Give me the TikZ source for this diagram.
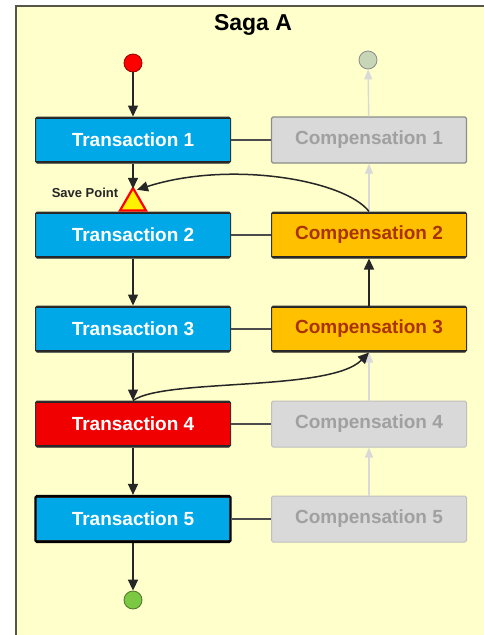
\documentclass[tikz,border=0pt]{standalone}
\usepackage{fontspec}
\setmainfont{Liberation Sans}
\usetikzlibrary{arrows.meta,shapes.geometric}
\definecolor{sagabg}{HTML}{FFFFCC}
\definecolor{frameline}{HTML}{55554A}
\definecolor{txblue}{HTML}{00A8E8}
\definecolor{txred}{HTML}{F00000}
\definecolor{cporange}{HTML}{FFC000}
\definecolor{cptext}{HTML}{A83200}
\definecolor{idlegrey}{HTML}{D9D9D9}
\definecolor{idletext}{HTML}{A0A0A0}
\definecolor{stopgreen}{HTML}{7CC842}
\definecolor{ghostgreen}{HTML}{C8D6B8}
\begin{document}
\begin{tikzpicture}[x=1pt,y=-1pt,
    edges/.style={path picture={\draw[line width=4pt,#1]
      (path picture bounding box.north west) -- (path picture bounding box.north east)
      (path picture bounding box.south west) -- (path picture bounding box.south east);}},
    box/.style={rectangle, minimum width=195pt, minimum height=46pt,
      rounded corners=1.5pt, line width=1pt, draw=black!80,
      font=\fontsize{19}{22}\selectfont\bfseries},
    trans/.style={box, fill=txblue, text=white, edges=black!85},
    comp/.style={box, fill=cporange, text=cptext, edges=black!85},
    idle/.style={box, fill=idlegrey, text=idletext, draw=black!25},
    endpoint/.style={circle, minimum size=18pt, inner sep=0pt, line width=0.8pt},
    flow/.style={-{Triangle[length=11pt,width=10pt]}, line width=1.5pt, draw=black!85},
    ghost/.style={-{Triangle[length=10pt,width=8pt]}, line width=1.4pt, draw=black!15},
    link/.style={line width=1.4pt, draw=black!70}]
  \useasboundingbox (0,0) rectangle (484,635);
  \fill[sagabg] (15,5) rectangle (484,635);
  \draw[frameline, line width=2pt] (16,635) -- (16,6) -- (484,6);

  \node[font=\fontsize{23}{26}\selectfont\bfseries] (title) at (253,25) {Saga A};

  % endpoints
  \node[endpoint, fill=red, draw=red!60!black] (start) at (133,63) {};
  \node[endpoint, fill=stopgreen, draw=stopgreen!60!black] (stop) at (133,600) {};
  \node[endpoint, fill=ghostgreen, draw=black!45] (cend) at (368,60) {};

  % transactions
  \node[trans] (t1) at (133,140) {Transaction 1};
  \node[trans] (t2) at (133,235) {Transaction 2};
  \node[trans] (t3) at (133,329) {Transaction 3};
  \node[trans, fill=txred] (t4) at (133,424) {Transaction 4};
  \node[trans, line width=2.2pt, draw=black] (t5) at (133,519) {Transaction 5};

  % compensations
  \node[idle, draw=black!45, line width=1.4pt] (c1) at (369,140) {Compensation 1};
  \node[comp] (c2) at (369,235) {Compensation 2};
  \node[comp] (c3) at (369,329) {Compensation 3};
  \node[idle] (c4) at (369,424) {Compensation 4};
  \node[idle] (c5) at (369,519) {Compensation 5};

  % save point
  \node[regular polygon, regular polygon sides=3, minimum size=30pt,
    inner sep=0pt, fill=yellow, draw=red, line width=2.2pt] (save) at (133,203) {};
  \node[font=\fontsize{13}{15}\selectfont\bfseries, text=black!85] (savelbl) at (85,193) {Save Point};

  \begin{scope}
    \draw[link] (t1) -- (c1);
    \draw[link] (t2) -- (c2);
    \draw[link] (t3) -- (c3);
    \draw[link] (t4) -- (c4);
    \draw[link] (t5) -- (c5);
  \end{scope}

  \begin{scope}
    \draw[ghost] (c5) -- (c4);
    \draw[ghost] (c4) -- (c3);
    \draw[ghost] (c2) -- (c1);
    \draw[ghost] (c1) -- (cend);
  \end{scope}

  \begin{scope}
    \draw[flow] (start) -- (t1);
    \draw[flow] (t1) -- ([yshift=-3pt]save.north);
    \draw[flow] (t2) -- (t3);
    \draw[flow] (t3) -- (t4);
    \draw[flow] (t4) -- (t5);
    \draw[flow] (t5) -- (stop);
    \draw[flow] (c3) -- (c2);
    \draw[flow] (c2.north) .. controls (345,180) and (230,160) .. ([xshift=4pt,yshift=-4pt]save.north);
    \draw[flow] (t4.north) .. controls (165,378) and (330,392) .. (c3.south);
  \end{scope}
\end{tikzpicture}
\end{document}
